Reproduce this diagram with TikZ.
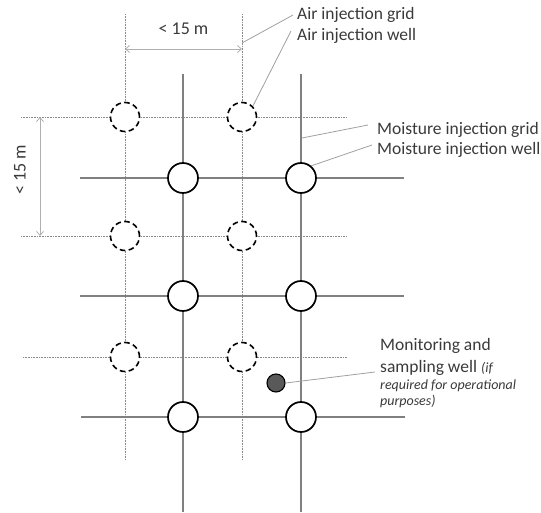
\documentclass[tikz,border=0pt]{standalone}
\usepackage{fontspec}
\setmainfont{Carlito}
\usetikzlibrary{arrows.meta}
\definecolor{txt}{HTML}{3A3A3A}
\definecolor{gridgray}{HTML}{808080}
\definecolor{dotgray}{HTML}{8A8A8A}
\definecolor{leadgray}{HTML}{A0A0A0}
\definecolor{dimgray}{HTML}{B0B0B0}
\tikzset{
  airgrid/.style={draw=dotgray, line width=0.9pt, dash pattern=on 1pt off 0.6pt},
  moistgrid/.style={draw=gridgray, line width=1.2pt},
  airwell/.style={circle, draw=black, fill=white, line width=1.6pt, dash pattern=on 5.5pt off 3.5pt, minimum size=29pt, inner sep=0pt},
  moistwell/.style={circle, draw=black, fill=white, line width=1.7pt, minimum size=30pt, inner sep=0pt},
  monwell/.style={circle, draw=black, fill=black!65, line width=1.1pt, minimum size=18pt, inner sep=0pt},
  leader/.style={draw=leadgray, line width=0.8pt},
  dimline/.style={draw=dimgray, line width=0.8pt, {Straight Barb[length=4pt,width=7pt]}-{Straight Barb[length=4pt,width=7pt]}},
  lbl/.style={text=txt, font=\fontsize{17.5}{20}\selectfont, inner sep=0pt, anchor=base west},
  ilbl/.style={text=txt, font=\fontsize{14}{16}\selectfont\itshape, inner sep=0pt, anchor=base west},
  dimlbl/.style={text=txt, font=\fontsize{18}{20}\selectfont, inner sep=0pt}
}
\begin{document}
\begin{tikzpicture}[x=1pt,y=-1pt]
\useasboundingbox (0,0) rectangle (541,513);
% air grid (dotted)
\coordinate (av1t) at (125,14);  \coordinate (av1b) at (125,460);
\coordinate (av2t) at (242,14);  \coordinate (av2b) at (242,460);
\coordinate (ah1l) at (21,117);  \coordinate (ah1r) at (346,117);
\coordinate (ah2l) at (21,236);  \coordinate (ah2r) at (346,236);
\coordinate (ah3l) at (23,357);  \coordinate (ah3r) at (347,357);
\foreach \a/\b in {av1t/av1b,av2t/av2b,ah1l/ah1r,ah2l/ah2r,ah3l/ah3r}
  \draw[airgrid] (\a) -- (\b);
% moisture grid (solid)
\coordinate (mv1t) at (183,74);  \coordinate (mv1b) at (183,512);
\coordinate (mv2t) at (301,74);  \coordinate (mv2b) at (301,512);
\coordinate (mh1l) at (80,178);  \coordinate (mh1r) at (404,178);
\coordinate (mh2l) at (80,296);  \coordinate (mh2r) at (404,296);
\coordinate (mh3l) at (81,417);  \coordinate (mh3r) at (405,417);
\foreach \a/\b in {mv1t/mv1b,mv2t/mv2b,mh1l/mh1r,mh2l/mh2r,mh3l/mh3r}
  \draw[moistgrid] (\a) -- (\b);
% air wells
\node[airwell] (a11) at (125,117) {};
\node[airwell] (a12) at (242,117) {};
\node[airwell] (a21) at (125,236) {};
\node[airwell] (a22) at (242,236) {};
\node[airwell] (a31) at (125,357) {};
\node[airwell] (a32) at (242,357) {};
% moisture wells
\node[moistwell] (m11) at (183,178) {};
\node[moistwell] (m12) at (301,178) {};
\node[moistwell] (m21) at (183,296) {};
\node[moistwell] (m22) at (301,296) {};
\node[moistwell] (m31) at (183,417) {};
\node[moistwell] (m32) at (301,417) {};
% monitoring well
\node[monwell] (mon) at (276,383) {};
% dimensions
\coordinate (dh1) at (125,49); \coordinate (dh2) at (242,49);
\draw[dimline] (dh1) -- (dh2);
\node[dimlbl, anchor=base] (dhl) at (183.5,35) {< 15 m};
\coordinate (dv1) at (40,117); \coordinate (dv2) at (40,236);
\draw[dimline] (dv1) -- (dv2);
\node[dimlbl, rotate=90] (dvl) at (20,170) {< 15 m};
% labels
\node[lbl] (lag) at (297,20) {Air injection grid};
\node[lbl] (law) at (297,41) {Air injection well};
\node[lbl] (lmg) at (377,135) {Moisture injection grid};
\node[lbl] (lmw) at (377,155) {Moisture injection well};
\node[lbl] (lmon1) at (380,350) {Monitoring and};
\node[lbl] (lmon2) at (380,372) {sampling well {\fontsize{14}{16}\selectfont\itshape (if}};
\node[ilbl] (lmon3) at (380,389) {required for operational};
\node[ilbl] (lmon4) at (380,405) {purposes)};
% leaders
\coordinate (lag0) at (242,43);
\draw[leader] (lag0) -- (293,15);
\draw[leader] (a12.45) -- (291,31);
\coordinate (lmg0) at (302,138);
\draw[leader] (lmg0) -- (368,125);
\draw[leader] (m12.50) -- (372,145);
\draw[leader] (mon.east) -- (375,372);
\end{tikzpicture}
\end{document}
